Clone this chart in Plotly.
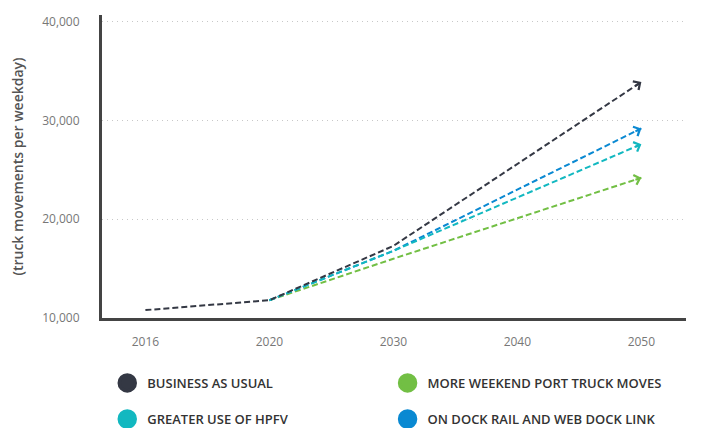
import plotly.graph_objects as go

# ---- data ----
years = ["2016", "2020", "2030", "2040", "2050"]
business_as_usual = [10800, 11800, 17300, None, 33900]
greater_use_hpfv = [None, 11800, 16800, None, 27600]
on_dock_rail = [None, 11800, 16800, None, 29200]
more_weekend_moves = [None, 11800, 16000, None, 24200]

series = [
    # name, values, colour, legend box
    ("MORE WEEKEND PORT TRUCK MOVES", more_weekend_moves, "#72BF44", "legend2"),
    ("ON DOCK RAIL AND WEB DOCK LINK", on_dock_rail, "#0A89D2", "legend4"),
    ("GREATER USE OF HPFV", greater_use_hpfv, "#12B8C0", "legend3"),
    ("BUSINESS AS USUAL", business_as_usual, "#343844", "legend"),
]

fig = go.Figure()
annotations = []
for name, vals, color, leg in series:
    fig.add_trace(go.Scatter(
        x=years, y=vals, mode="lines", connectgaps=True,
        line=dict(color=color, width=2, dash="6px,3px"),
        showlegend=False, hoverinfo="skip",
    ))
    # legend-only entry with a big round symbol
    fig.add_trace(go.Scatter(
        x=[None], y=[None], mode="markers", name=name,
        marker=dict(size=16, color=color, line=dict(color=color, width=3.5)),
        legend=leg,
    ))
    # open chevron at the end of the projection
    last = len(years) - 1
    prev = max(i for i in range(last) if vals[i] is not None)
    t = 0.03
    tail_x = last - t * (last - prev)
    tail_y = vals[last] - t * (vals[last] - vals[prev])
    annotations.append(dict(
        x=last, y=vals[last], ax=tail_x, ay=tail_y,
        xref="x", yref="y", axref="x", ayref="y",
        text="", showarrow=True, arrowhead=4, arrowsize=1,
        arrowwidth=2, arrowcolor=color,
    ))

legend_font = dict(family="Open Sans", size=13, color="#333333", weight=600)
tick_font = dict(family="Open Sans", size=12, color="#777777")


def legend_box(x, y):
    return dict(x=x, y=y, xanchor="left", yanchor="top", orientation="v",
                font=legend_font, bgcolor="rgba(0,0,0,0)")


col1, col2 = 0.009, 0.489
row1, row2 = -0.165, -0.284

fig.update_layout(
    width=685, height=420,
    margin=dict(l=94, r=7, t=7, b=110, autoexpand=False),
    paper_bgcolor="white", plot_bgcolor="white",
    annotations=annotations,
    legend=legend_box(col1, row1),
    legend2=legend_box(col2, row1),
    legend3=legend_box(col1, row2),
    legend4=legend_box(col2, row2),
    xaxis=dict(
        type="category", categoryorder="array", categoryarray=years,
        range=[-0.35, 4.36],
        showline=True, linecolor="#444444", linewidth=3,
        showgrid=False, ticks="", ticklabelstandoff=11,
        tickfont=tick_font,
        fixedrange=True,
    ),
    yaxis=dict(
        range=[10000, 40680], tickvals=[10000, 20000, 30000, 40000],
        tickformat=",",
        showline=True, linecolor="#444444", linewidth=3,
        showgrid=True, gridcolor="#c8c8c8", griddash="1px,4px", gridwidth=1.2,
        zeroline=False, ticks="", ticklabelstandoff=17,
        tickfont=tick_font,
        title=dict(text="(truck movements per weekday)", standoff=16,
                   font=dict(family="Open Sans", size=14, color="#555555", weight=600)),
        automargin=False, fixedrange=True,
    ),
)

fig.write_html("out.html")
